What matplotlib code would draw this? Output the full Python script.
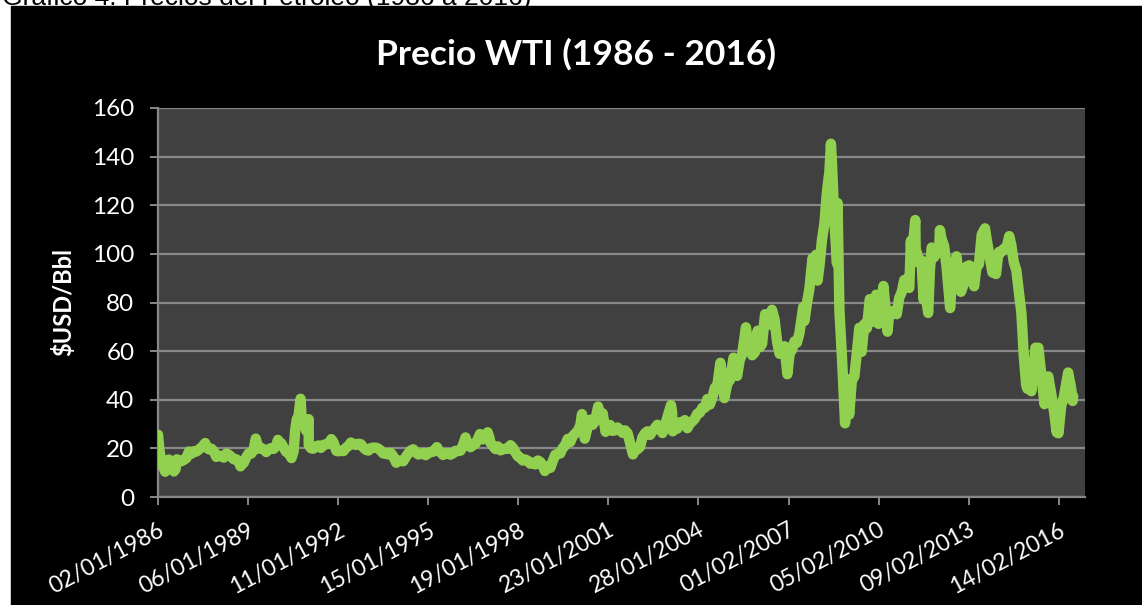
import numpy as np
import pandas as pd
import matplotlib
matplotlib.use("Agg")
import matplotlib.pyplot as plt
from matplotlib.patches import Rectangle

# ---- data (WTI spot, USD/bbl) -----------------------------------------------
DATES = [
    "1986-01-02", "1986-01-20", "1986-02-15", "1986-03-31", "1986-04-15", "1986-05-15",
    "1986-06-15", "1986-07-15", "1986-08-05", "1986-08-20", "1986-09-15", "1986-10-15",
    "1986-11-15", "1986-12-15",
    "1987-01-15", "1987-02-15", "1987-03-15", "1987-04-15", "1987-05-15", "1987-06-15",
    "1987-07-15", "1987-08-01", "1987-08-20", "1987-09-15", "1987-10-15", "1987-11-15",
    "1987-12-15",
    "1988-01-15", "1988-02-15", "1988-03-15", "1988-04-15", "1988-05-15", "1988-06-15",
    "1988-07-15", "1988-08-15", "1988-09-15", "1988-10-05", "1988-10-25", "1988-11-15",
    "1988-12-15",
    "1989-01-15", "1989-02-15", "1989-03-15", "1989-04-10", "1989-05-15", "1989-06-15",
    "1989-07-15", "1989-08-15", "1989-09-15", "1989-10-15", "1989-11-15", "1989-12-15",
    "1990-01-05", "1990-01-20", "1990-02-15", "1990-03-15", "1990-04-15", "1990-05-15",
    "1990-06-20", "1990-07-15", "1990-08-06", "1990-08-24", "1990-09-15", "1990-10-09",
    "1990-10-25", "1990-11-15", "1990-12-15",
    "1991-01-16", "1991-01-17", "1991-02-15", "1991-03-15", "1991-04-15", "1991-05-15",
    "1991-06-15", "1991-07-15", "1991-08-15", "1991-09-15", "1991-10-20", "1991-11-15",
    "1991-12-20",
    "1992-01-15", "1992-02-15", "1992-03-15", "1992-04-15", "1992-05-15", "1992-06-15",
    "1992-07-15", "1992-08-15", "1992-09-15", "1992-10-15", "1992-11-15", "1992-12-15",
    "1993-01-15", "1993-02-15", "1993-03-15", "1993-04-15", "1993-05-15", "1993-06-15",
    "1993-07-15", "1993-08-15", "1993-09-15", "1993-10-15", "1993-11-15", "1993-12-20",
    "1994-01-15", "1994-02-15", "1994-03-15", "1994-04-15", "1994-05-15", "1994-06-15",
    "1994-07-15", "1994-08-15", "1994-09-15", "1994-10-15", "1994-11-15", "1994-12-15",
    "1995-01-15", "1995-02-15", "1995-03-15", "1995-04-15", "1995-05-01", "1995-05-20",
    "1995-06-15", "1995-07-15", "1995-08-15", "1995-09-15", "1995-10-15", "1995-11-15",
    "1995-12-15",
    "1996-01-15", "1996-02-15", "1996-03-15", "1996-04-15", "1996-05-15", "1996-06-15",
    "1996-07-15", "1996-08-15", "1996-09-15", "1996-10-08", "1996-11-15", "1996-12-15",
    "1997-01-10", "1997-01-30", "1997-02-15", "1997-03-15", "1997-04-15", "1997-05-15",
    "1997-06-15", "1997-07-15", "1997-08-15", "1997-09-15", "1997-10-15", "1997-11-15",
    "1997-12-15",
    "1998-01-15", "1998-02-15", "1998-03-15", "1998-04-15", "1998-05-15", "1998-06-15",
    "1998-07-15", "1998-08-15", "1998-09-15", "1998-10-15", "1998-11-15", "1998-12-10",
    "1999-01-15", "1999-02-15", "1999-03-15", "1999-04-15", "1999-05-15", "1999-06-15",
    "1999-07-15", "1999-08-15", "1999-09-15", "1999-10-15", "1999-11-15", "1999-12-15",
    "2000-01-15", "2000-02-15", "2000-03-07", "2000-03-20", "2000-04-10", "2000-05-15",
    "2000-06-15", "2000-07-15", "2000-08-15", "2000-09-20", "2000-10-15", "2000-11-15",
    "2000-12-20",
    "2001-01-15", "2001-02-15", "2001-03-15", "2001-04-15", "2001-05-15", "2001-06-15",
    "2001-07-15", "2001-08-15", "2001-09-15", "2001-10-15", "2001-11-20", "2001-12-15",
    "2002-01-15", "2002-02-15", "2002-03-15", "2002-04-15", "2002-05-15", "2002-06-15",
    "2002-07-15", "2002-08-15", "2002-09-15", "2002-10-15", "2002-11-15", "2002-12-15",
    "2003-01-15", "2003-02-27", "2003-03-12", "2003-03-20", "2003-04-15", "2003-05-15",
    "2003-06-15", "2003-07-15", "2003-08-15", "2003-09-15", "2003-10-15", "2003-11-15",
    "2003-12-15",
    "2004-01-15", "2004-02-15", "2004-03-15", "2004-04-15", "2004-05-15", "2004-06-15",
    "2004-07-15", "2004-08-15", "2004-09-15", "2004-10-22", "2004-11-15", "2004-12-10",
    "2005-01-15", "2005-02-15", "2005-04-01", "2005-04-20", "2005-05-15", "2005-06-15",
    "2005-07-15", "2005-08-30", "2005-09-15", "2005-10-15", "2005-11-15", "2005-12-15",
    "2006-01-05", "2006-01-20", "2006-02-15", "2006-03-15", "2006-04-21", "2006-05-15",
    "2006-06-15", "2006-07-14", "2006-08-15", "2006-09-15", "2006-10-15", "2006-11-15",
    "2006-12-15",
    "2007-01-18", "2007-02-15", "2007-03-15", "2007-04-15", "2007-05-15", "2007-06-15",
    "2007-07-31", "2007-08-15", "2007-09-15", "2007-10-15", "2007-11-21", "2007-12-15",
    "2008-01-02", "2008-01-22", "2008-02-15", "2008-03-15", "2008-04-15", "2008-05-15",
    "2008-06-15", "2008-07-03", "2008-07-15", "2008-08-15", "2008-09-15", "2008-09-22",
    "2008-10-15", "2008-11-15", "2008-12-23",
    "2009-01-06", "2009-01-15", "2009-02-12", "2009-03-15", "2009-04-15", "2009-05-15",
    "2009-06-15", "2009-07-13", "2009-08-15", "2009-09-15", "2009-10-21", "2009-11-15",
    "2009-12-15",
    "2010-01-06", "2010-02-05", "2010-03-15", "2010-04-06", "2010-05-25", "2010-06-15",
    "2010-07-15", "2010-08-15", "2010-09-15", "2010-10-15", "2010-11-15", "2010-12-15",
    "2011-01-15", "2011-02-15", "2011-03-07", "2011-03-15", "2011-04-29", "2011-05-06",
    "2011-05-15", "2011-06-15", "2011-07-15", "2011-08-08", "2011-08-20", "2011-10-04",
    "2011-10-25", "2011-11-16", "2011-12-15",
    "2012-01-15", "2012-02-15", "2012-02-24", "2012-03-15", "2012-04-15", "2012-05-15",
    "2012-06-28", "2012-07-15", "2012-08-15", "2012-09-14", "2012-10-15", "2012-11-07",
    "2012-12-15",
    "2013-01-15", "2013-02-15", "2013-03-15", "2013-04-17", "2013-05-15", "2013-06-15",
    "2013-07-19", "2013-08-28", "2013-09-15", "2013-10-15", "2013-11-27", "2013-12-15",
    "2014-01-09", "2014-01-30", "2014-02-15", "2014-03-15", "2014-04-15", "2014-05-15",
    "2014-06-20", "2014-07-15", "2014-08-15", "2014-09-15", "2014-10-15", "2014-11-15",
    "2014-12-15",
    "2015-01-13", "2015-01-28", "2015-02-15", "2015-03-17", "2015-04-15", "2015-05-06",
    "2015-06-10", "2015-07-15", "2015-08-24", "2015-08-31", "2015-09-15", "2015-10-09",
    "2015-11-15", "2015-12-21",
    "2016-01-20", "2016-02-01", "2016-02-11", "2016-03-15", "2016-04-15", "2016-05-15",
    "2016-06-08", "2016-07-15", "2016-08-02", "2016-08-08",
]
PRICES = [
    25.6, 19.0, 14.0, 10.4, 13.0, 15.4,
    12.5, 10.5, 11.5, 15.5, 15.0, 14.7,
    15.3, 16.0,
    18.7, 17.8, 18.8, 18.7, 19.5, 20.3,
    21.4, 22.2, 20.5, 19.6, 19.9, 18.8,
    16.5,
    17.0, 16.8, 16.2, 17.9, 17.4, 16.5,
    15.5, 15.5, 14.5, 12.6, 13.5, 14.1,
    16.4,
    18.0, 17.9, 19.5, 24.0, 19.9, 20.2,
    19.6, 18.5, 19.6, 20.1, 19.8, 21.1,
    23.5, 22.5, 22.1, 20.4, 18.6, 18.2,
    16.0, 18.6, 28.0, 31.9, 33.5, 40.4,
    31.0, 32.3, 27.3,
    32.0, 21.4, 20.0, 19.9, 20.8, 21.2,
    20.2, 21.4, 21.7, 21.9, 23.8, 22.5,
    19.0,
    18.8, 19.0, 18.9, 20.2, 21.0, 22.4,
    21.8, 21.4, 21.9, 21.7, 20.3, 19.4,
    19.1, 20.1, 20.3, 20.3, 19.9, 19.1,
    17.9, 18.0, 17.5, 18.1, 16.7, 14.1,
    15.0, 14.8, 14.7, 16.4, 17.9, 19.1,
    19.6, 18.4, 17.5, 17.7, 18.1, 17.2,
    18.0, 18.5, 18.6, 19.9, 20.5, 19.3,
    18.4, 17.3, 17.9, 18.0, 17.4, 18.0,
    19.0,
    18.9, 19.1, 21.4, 24.5, 21.3, 20.5,
    21.3, 22.0, 24.0, 25.9, 23.7, 25.4,
    26.6, 24.5, 22.2, 21.0, 19.7, 20.8,
    19.2, 19.6, 19.9, 19.8, 21.3, 20.2,
    18.3,
    16.7, 16.1, 15.0, 15.4, 14.9, 13.7,
    14.1, 13.4, 15.0, 14.4, 12.9, 10.7,
    12.5, 12.0, 14.7, 17.3, 17.8, 17.9,
    20.1, 21.3, 23.9, 22.6, 25.0, 26.1,
    27.2, 29.4, 34.1, 29.9, 24.0, 28.8,
    31.8, 29.7, 31.3, 37.2, 33.1, 34.4,
    26.8,
    29.6, 29.6, 27.2, 27.4, 28.6, 27.6,
    26.4, 27.4, 26.2, 22.2, 17.5, 19.4,
    19.7, 20.7, 24.5, 26.2, 27.0, 25.5,
    26.9, 28.4, 29.7, 28.9, 26.3, 29.4,
    32.9, 37.8, 35.0, 27.0, 28.3, 28.1,
    30.7, 30.8, 31.6, 28.3, 30.3, 31.1,
    32.2,
    34.3, 34.7, 36.7, 36.7, 40.3, 38.0,
    40.7, 44.9, 45.9, 55.2, 48.5, 40.7,
    46.8, 48.0, 57.3, 50.5, 49.8, 56.3,
    58.7, 69.8, 65.6, 62.4, 58.3, 59.4,
    63.0, 68.4, 61.6, 62.9, 75.2, 70.8,
    71.0, 77.0, 73.0, 63.8, 58.9, 59.1,
    62.0,
    50.5, 59.3, 60.4, 64.0, 63.5, 67.5,
    78.2, 72.4, 79.9, 85.8, 98.2, 91.7,
    99.6, 89.0, 95.4, 105.5, 112.6, 125.4,
    134.0, 145.3, 138.0, 113.0, 96.0, 120.9,
    76.6, 57.3, 30.3,
    48.6, 41.7, 33.9, 47.9, 49.6, 59.0,
    69.6, 59.7, 71.1, 69.4, 81.4, 78.0,
    72.0,
    83.2, 71.2, 81.2, 86.8, 68.0, 75.3,
    76.3, 76.6, 75.2, 81.9, 84.3, 89.2,
    89.6, 86.0, 105.4, 97.0, 113.9, 97.2,
    100.9, 96.3, 97.3, 81.3, 86.3, 75.7,
    93.2, 102.6, 98.6,
    100.3, 102.2, 109.8, 106.2, 103.3, 94.7,
    77.7, 87.9, 94.1, 99.0, 89.5, 84.4,
    87.9,
    94.8, 95.3, 92.9, 86.7, 94.5, 95.8,
    108.0, 110.5, 106.3, 100.5, 92.3, 97.6,
    91.7, 98.0, 100.8, 100.8, 102.1, 102.2,
    107.3, 103.6, 96.5, 93.2, 84.4, 75.8,
    57.8,
    46.0, 44.5, 50.6, 43.5, 54.5, 61.4,
    61.4, 50.9, 38.2, 49.2, 45.5, 49.6,
    42.4, 34.7,
    26.6, 31.6, 26.2, 37.5, 40.8, 46.7,
    51.2, 44.7, 39.5, 41.5,
]
Y_TICKS = [0, 20, 40, 60, 80, 100, 120, 140, 160]
TICK_STEP_DAYS = 1100          # the chart labels every 1100 days from the start
N_TICKS = 11

TITLE = "Precio WTI (1986 - 2016)"
YLABEL = "$USD/Bbl"
HEADER = "Gráfico 4: Precios del Petróleo (1986 a 2016)"

# ---- style ------------------------------------------------------------------
W, H = 1142, 605
DPI = 100
GREEN = "#92d050"
PLOT_BG = "#404040"
GRID = "#888888"
FONT = "Lato"


def main():
    dates = pd.to_datetime(DATES)
    start = dates[0]
    ticks = [start + pd.Timedelta(days=TICK_STEP_DAYS * k) for k in range(N_TICKS)]

    fig = plt.figure(figsize=(W / DPI, H / DPI), dpi=DPI, facecolor="white")
    # black chart card, leaving a white margin on the left and top
    fig.patches.append(Rectangle((11 / W, 0), 1 - 11 / W, 1 - 6 / H,
                                 transform=fig.transFigure, color="black",
                                 zorder=-10))
    fig.text(2 / W, 1 - 5 / H, HEADER, family="Liberation Sans", fontsize=19,
             color="black", va="baseline", ha="left")

    ax = fig.add_axes([158 / W, 108 / H, (1085 - 158) / W, (497 - 108) / H])
    ax.set_facecolor(PLOT_BG)
    ax.plot(dates, PRICES, color=GREEN, lw=7.5, solid_joinstyle="round",
            solid_capstyle="round", zorder=3)

    ax.set_ylim(0, 160)
    ax.set_yticks(Y_TICKS)
    ax.set_xlim(start, start + pd.Timedelta(days=11321))
    ax.set_xticks(ticks)
    ax.set_xticklabels([t.strftime("%d/%m/%Y") for t in ticks])

    ax.grid(axis="y", color=GRID, lw=1.6, zorder=1)
    ax.set_axisbelow(True)
    for s in ("top", "right"):
        ax.spines[s].set_visible(False)
    for s in ("left", "bottom"):
        ax.spines[s].set_color(GRID)
        ax.spines[s].set_linewidth(1.6)

    ax.tick_params(axis="both", colors=GRID, width=1.4, length=6)
    ax.tick_params(axis="y", labelcolor="white", labelsize=17.5, pad=11)
    ax.tick_params(axis="x", labelcolor="white", labelsize=16.5, pad=10)
    for lab in ax.get_yticklabels():
        lab.set_family(FONT)
    for lab in ax.get_xticklabels():
        lab.set_family(FONT)
        lab.set_rotation(28)
        lab.set_ha("right")
        lab.set_va("top")
        lab.set_rotation_mode("anchor")

    ax.set_ylabel(YLABEL, color="white", fontsize=17, fontweight="bold",
                  family=FONT, labelpad=12)
    fig.text(576 / W, 1 - 65 / H, TITLE, color="white", fontsize=25.5,
             fontweight="bold", family=FONT, ha="center", va="baseline")

    fig.savefig("out.png", dpi=DPI, facecolor=fig.get_facecolor())


if __name__ == "__main__":
    main()
